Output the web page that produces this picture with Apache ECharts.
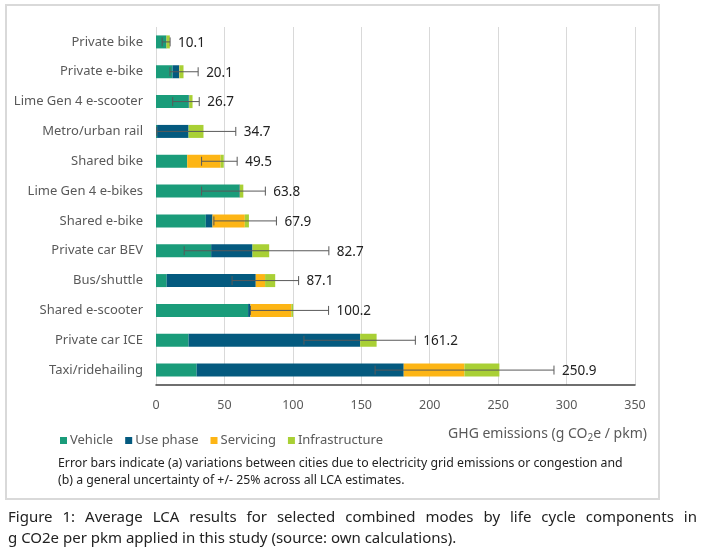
<!DOCTYPE html>
<html>
<head>
<meta charset="utf-8">
<script src="https://cdn.jsdelivr.net/npm/echarts@6/dist/echarts.min.js"></script>
<style>
  html, body {margin: 0; padding: 0; background: #fff;}
  #chart {width: 705px; height: 559px;}
</style>
</head>
<body>
<div id="chart"></div>
<script>
// modes, top to bottom
var categories = ['Private bike', 'Private e-bike', 'Lime Gen 4 e-scooter', 'Metro/urban rail', 'Shared bike',
    'Lime Gen 4 e-bikes', 'Shared e-bike', 'Private car BEV', 'Bus/shuttle', 'Shared e-scooter',
    'Private car ICE', 'Taxi/ridehailing'];

// life cycle components (g CO2e / pkm)
var vehicle = [7.3, 12.1, 23.8, 0.8, 22.8, 60.7, 36.4, 40.3, 7.8, 67.3, 23.8, 29.7];
var usePhase = [0.3, 4.9, 0.5, 23.0, 0, 0.5, 4.9, 30.2, 65.1, 1.7, 125.4, 151.3];
var servicing = [0, 0.3, 0, 0, 24.4, 0, 23.6, 0, 6.8, 29.9, 0, 44.4];
var infrastructure = [2.5, 2.8, 2.4, 10.9, 2.3, 2.6, 3.0, 12.2, 7.4, 1.3, 12.0, 25.5];
var totals = [10.1, 20.1, 26.7, 34.7, 49.5, 63.8, 67.9, 82.7, 87.1, 100.2, 161.2, 250.9];

// error bars
var errLow = [4.5, 10.2, 12.2, 0.5, 33.3, 33.3, 42.3, 20.6, 55.6, 69.0, 108.1, 160.1];
var errHigh = [10.3, 30.8, 31.6, 58.3, 59.3, 79.9, 88.0, 126.3, 104.2, 126.1, 189.5, 290.8];

var xTicks = [0, 350, 50];

var colors = ['#1a9c7a', '#045a7f', '#fdb515', '#a9d035'];
var font = '"Noto Sans", "Open Sans", sans-serif';

var errData = categories.map(function (c, i) {
    return [i, errLow[i], errHigh[i], totals[i]];
});

function barSeries(name, data) {
    return {
        name: name,
        type: 'bar',
        stack: 'total',
        barWidth: 13,
        data: data,
        emphasis: {disabled: true}
    };
}

// justified caption line
function captionLine(text, y, justify) {
    var left = 8, right = 697;
    var ctx = document.createElement('canvas').getContext('2d');
    ctx.font = '15px ' + font;
    var words = text.split(' ');
    var total = 0;
    words.forEach(function (w) { total += ctx.measureText(w).width; });
    var space = justify ? (right - left - total) / (words.length - 1) : ctx.measureText(' ').width;
    var x = left, out = [];
    words.forEach(function (w) {
        out.push({
            type: 'text', left: x, top: y,
            style: {text: w, font: '15px ' + font, fill: '#222'}
        });
        x += ctx.measureText(w).width + space;
    });
    return out;
}

var graphics = [
    {
        type: 'rect',
        shape: {x: 6, y: 5, width: 653, height: 494},
        style: {fill: 'none', stroke: '#d9d9d9', lineWidth: 2},
        silent: true
    },
    {
        type: 'text', right: 58, top: 427,
        style: {
            rich: {
                n: {font: '14px ' + font, fill: '#595959'},
                s: {font: '10px ' + font, fill: '#595959', padding: [8, 0, 0, 0]}
            },
            text: '{n|GHG emissions (g CO}{s|2}{n|e / pkm)}'
        }
    },
    {
        type: 'text', left: 58, top: 455,
        style: {
            text: 'Error bars indicate (a) variations between cities due to electricity grid emissions or congestion and\n(b) a general uncertainty of +/- 25% across all LCA estimates.',
            font: '12.3px "Liberation Sans Narrow", ' + font, fill: '#222', lineHeight: 17
        }
    }
].concat(captionLine('Figure 1: Average LCA results for selected combined modes by life cycle components in', 510, true))
 .concat(captionLine('g CO2e per pkm applied in this study (source: own calculations).', 531, false));

var option = {
    animation: false,
    color: colors,
    textStyle: {fontFamily: font},
    grid: {left: 156, right: 70, top: 27, bottom: 174},
    legend: {
        left: 55, top: 429,
        itemWidth: 7, itemHeight: 7, itemGap: 12,
        icon: 'rect',
        textStyle: {color: '#595959', fontSize: 13, padding: [0, 0, 0, -2]},
        data: ['Vehicle', 'Use phase', 'Servicing', 'Infrastructure']
    },
    xAxis: {
        type: 'value',
        min: xTicks[0], max: xTicks[1], interval: xTicks[2],
        axisLine: {show: true, lineStyle: {color: '#404040', width: 1.5}},
        axisTick: {show: false},
        axisLabel: {color: '#595959', fontSize: 12.5, margin: 14},
        splitLine: {lineStyle: {color: '#d9d9d9', width: 1}}
    },
    yAxis: {
        type: 'category',
        inverse: true,
        data: categories,
        axisLine: {show: false},
        axisTick: {show: false},
        axisLabel: {color: '#595959', fontSize: 13, margin: 13}
    },
    series: [
        barSeries('Vehicle', vehicle),
        barSeries('Use phase', usePhase),
        barSeries('Servicing', servicing),
        barSeries('Infrastructure', infrastructure),
        {
            type: 'custom',
            name: 'error',
            data: errData,
            z: 10,
            renderItem: function (params, api) {
                var y = api.coord([0, api.value(0)])[1];
                var x0 = api.coord([api.value(1), 0])[0];
                var x1 = api.coord([api.value(2), 0])[0];
                var cap = 4.5;
                var ls = {stroke: '#595959', lineWidth: 1};
                return {
                    type: 'group',
                    children: [
                        {type: 'line', shape: {x1: x0, y1: y, x2: x1, y2: y}, style: ls},
                        {type: 'line', shape: {x1: x0, y1: y - cap, x2: x0, y2: y + cap}, style: ls},
                        {type: 'line', shape: {x1: x1, y1: y - cap, x2: x1, y2: y + cap}, style: ls},
                        {
                            type: 'text', x: x1 + 8, y: y + 1,
                            style: {
                                text: api.value(3).toFixed(1),
                                font: '13.5px ' + font, fill: '#222',
                                textVerticalAlign: 'middle'
                            }
                        }
                    ]
                };
            }
        }
    ],
    graphic: graphics
};

var myChart = echarts.init(document.getElementById('chart'));
myChart.setOption(option);
</script>
</body>
</html>
